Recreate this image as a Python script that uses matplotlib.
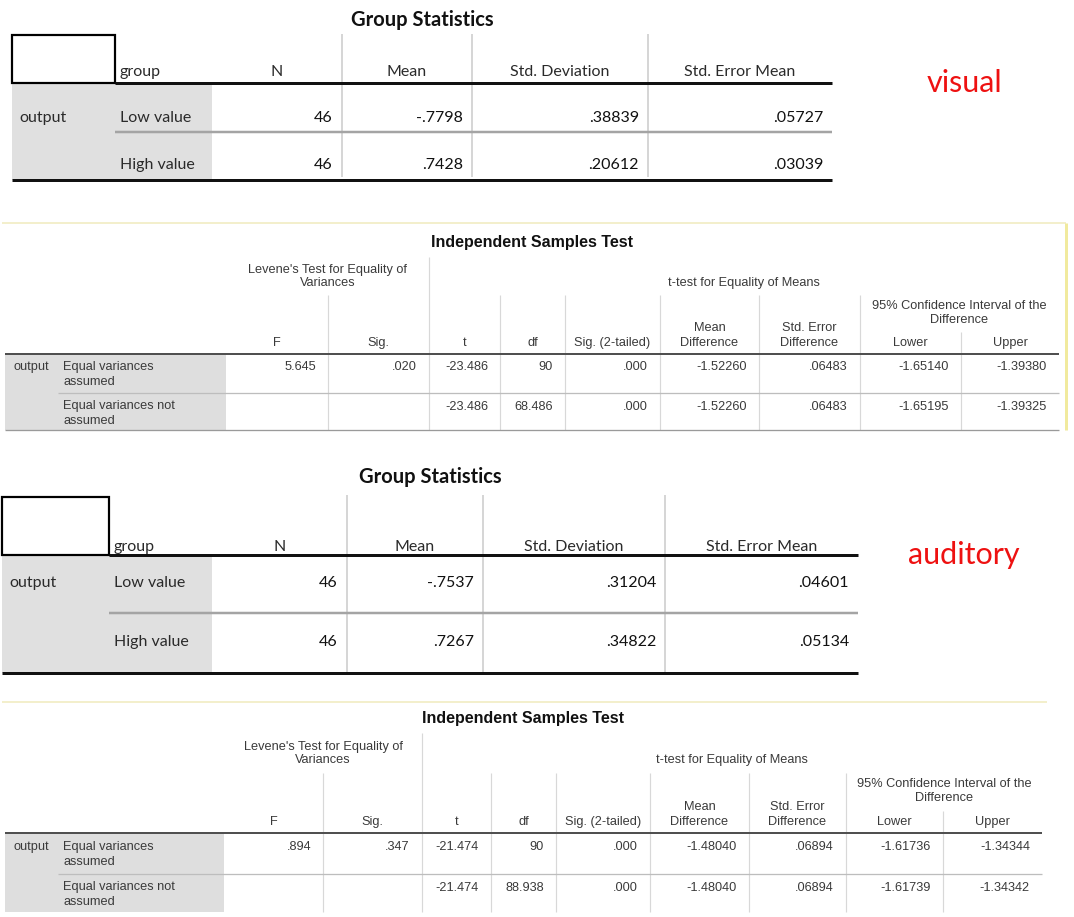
import matplotlib
matplotlib.use("Agg")
from matplotlib import pyplot as plt
from matplotlib.patches import Rectangle

# ---------------- data ----------------
groups = ["Low value", "High value"]
stat_headers = ["N", "Mean", "Std. Deviation", "Std. Error Mean"]
stat_formats = ["%d", "%.4f", "%.5f", "%.5f"]

visual_n = [46, 46]
visual_mean = [-0.7798, 0.7428]
visual_sd = [0.38839, 0.20612]
visual_se = [0.05727, 0.03039]

auditory_n = [46, 46]
auditory_mean = [-0.7537, 0.7267]
auditory_sd = [0.31204, 0.34822]
auditory_se = [0.04601, 0.05134]

test_rows = ["Equal variances\nassumed", "Equal variances not\nassumed"]
test_headers = ["F", "Sig.", "t", "df", "Sig. (2-tailed)", "Mean\nDifference",
                "Std. Error\nDifference", "Lower", "Upper"]
test_formats = ["%.3f", "%.3f", "%.3f", "%g", "%.3f", "%.5f", "%.5f", "%.5f", "%.5f"]

visual_F = [5.645, None]
visual_sig = [0.020, None]
visual_t = [-23.486, -23.486]
visual_df = [90, 68.486]
visual_p = [0.000, 0.000]
visual_md = [-1.52260, -1.52260]
visual_sed = [0.06483, 0.06483]
visual_lower = [-1.65140, -1.65195]
visual_upper = [-1.39380, -1.39325]

auditory_F = [0.894, None]
auditory_sig = [0.347, None]
auditory_t = [-21.474, -21.474]
auditory_df = [90, 88.938]
auditory_p = [0.000, 0.000]
auditory_md = [-1.48040, -1.48040]
auditory_sed = [0.06894, 0.06894]
auditory_lower = [-1.61736, -1.61739]
auditory_upper = [-1.34344, -1.34342]


def fmt(v, f):
    # SPSS style: no leading zero
    if v is None:
        return ""
    s = f % v
    if s.startswith("0."):
        s = s[1:]
    elif s.startswith("-0."):
        s = "-" + s[2:]
    return s


fig = plt.figure(figsize=(10.74, 9.17), dpi=100)
ax = fig.add_axes([0, 0, 1, 1])
ax.set_xlim(0, 1074)
ax.set_ylim(917, 0)
ax.axis("off")

PX = 0.72  # points per pixel at dpi 100
CAL = "Lato"
ARI = "Liberation Sans"


def hline(y, x0, x1, color, w):
    ax.plot([x0, x1], [y, y], color=color, lw=w * PX, solid_capstyle="butt")


def vline(x, y0, y1, color, w):
    ax.plot([x, x], [y0, y1], color=color, lw=w * PX, solid_capstyle="butt")


def lines(x, y, s, step, **kw):
    # multi-line text, last line at y
    parts = s.split("\n")
    for i, p in enumerate(parts):
        ax.text(x, y - (len(parts) - 1 - i) * step, p, va="center", **kw)


def group_table(title_y, box, cols, head_y, row_y, rowsep_y, bottom_y, sep_top, sep_bot,
                cells, tag, tag_xy):
    x0, y0, x1, y1 = box
    right = cols[-1]
    ax.text((x0 + right) / 2, title_y, "Group Statistics", ha="center", va="center",
            family=CAL, fontweight="bold", fontsize=14.5, color="#111111")
    ax.add_patch(Rectangle((x0, y1), cols[0] - x0, bottom_y - y1, color="#e0e0e0", lw=0))
    for c in cols[1:-1]:
        vline(c, sep_top, sep_bot, "#d6d6d6", 2)
    ax.add_patch(Rectangle((x0, y0), x1 - x0, y1 - y0, fill=False, ec="black", lw=2.2 * PX))
    hline(y1, x1, right, "#111111", 3)
    hline(rowsep_y, x1, right, "#a4a4a4", 2.5)
    hline(bottom_y, x0, right, "#111111", 3)
    ax.text(x1 + 5, head_y, "group", va="center", family=CAL, fontsize=11.5, color="#2a2a2a")
    for i, h in enumerate(stat_headers):
        ax.text((cols[i] + cols[i + 1]) / 2, head_y, h, ha="center", va="center",
                family=CAL, fontsize=11.5, color="#2a2a2a")
    ax.text(x0 + 7, row_y[0], "output", va="center", family=CAL, fontsize=11.5, color="#2a2a2a")
    for r, g in enumerate(groups):
        ax.text(x1 + 5, row_y[r], g, va="center", family=CAL, fontsize=11.5, color="#2a2a2a")
        for i, col in enumerate(cells):
            ax.text(cols[i + 1] - 9, row_y[r], fmt(col[r], stat_formats[i]), ha="right",
                    va="center", family=CAL, fontsize=11.5, color="#111111")
    ax.text(tag_xy[0], tag_xy[1], tag, ha="center", va="center", family=CAL,
            fontsize=22, color="#ee1111")


def test_table(ty, s, x0, cols, cells, yellow_y, yellow_x1, yellow_right=None, bottom=True):
    right = cols[-1]

    def Y(off):
        return ty + off * s

    hline(yellow_y, x0 - 3, yellow_x1, "#f3efcc", 2)
    if yellow_right is not None:
        vline(yellow_right, yellow_y, Y(188), "#f1ea9e", 3)
    ax.text((x0 + right) / 2, ty, "Independent Samples Test", ha="center", va="center",
            family=ARI, fontweight="bold", fontsize=11.5, color="#111111")
    ax.add_patch(Rectangle((x0, Y(112)), cols[0] - x0, Y(188) - Y(112), color="#dedede", lw=0))
    vline(cols[2], Y(15), Y(188), "#d8d8d8", 1.2)
    for c in [cols[1], cols[3], cols[4], cols[5], cols[6], cols[7]]:
        vline(c, Y(53), Y(188), "#d8d8d8", 1.2)
    vline(cols[8], Y(90), Y(188), "#d8d8d8", 1.2)
    hline(Y(112), x0, right, "#505050", 2)
    hline(Y(151), 58, right, "#bdbdbd", 1.3)
    if bottom:
        hline(Y(188), x0, right, "#9a9a9a", 1.3)

    kw = dict(family=ARI, fontsize=9.2, color="#3a3a3a")
    lines((cols[0] + cols[2]) / 2, Y(41), "Levene's Test for Equality of\nVariances", 13 * s,
          ha="center", **kw)
    ax.text((cols[2] + cols[9]) / 2, Y(41), "t-test for Equality of Means", ha="center",
            va="center", **kw)
    lines((cols[7] + cols[9]) / 2, Y(78), "95% Confidence Interval of the\nDifference", 14 * s,
          ha="center", **kw)
    for i, h in enumerate(test_headers):
        lines((cols[i] + cols[i + 1]) / 2, Y(101), h, 15 * s, ha="center", **kw)

    ax.text(x0 + 9, Y(125), "output", va="center", **kw)
    for r, lab in enumerate(test_rows):
        lines(63, Y(140 if r == 0 else 179), lab, 15 * s, ha="left", **kw)
        for i, col in enumerate(cells):
            ax.text(cols[i + 1] - 12, Y(125 if r == 0 else 165), fmt(col[r], test_formats[i]),
                    ha="right", va="center", **kw)


group_table(20, (12, 35, 115, 83), [212, 342, 472, 648, 832], 72, [118, 165], 132, 180, 34, 177,
            [visual_n, visual_mean, visual_sd, visual_se], "visual", (964, 83))

test_table(242, 1.0, 5, [226, 328, 429, 500, 565, 660, 759, 860, 961, 1059],
           [visual_F, visual_sig, visual_t, visual_df, visual_p, visual_md, visual_sed,
            visual_lower, visual_upper], 223, 1066, yellow_right=1066)

group_table(477, (2, 497, 109, 555), [212, 347, 483, 665, 858], 547, [583, 642], 613, 673, 495, 672,
            [auditory_n, auditory_mean, auditory_sd, auditory_se], "auditory", (964, 555))

test_table(718, 1.03, 5, [224, 323, 422, 491, 556, 650, 749, 846, 943, 1042],
           [auditory_F, auditory_sig, auditory_t, auditory_df, auditory_p, auditory_md,
            auditory_sed, auditory_lower, auditory_upper], 702, 1047, bottom=False)

plt.savefig("out.png", dpi=100)
